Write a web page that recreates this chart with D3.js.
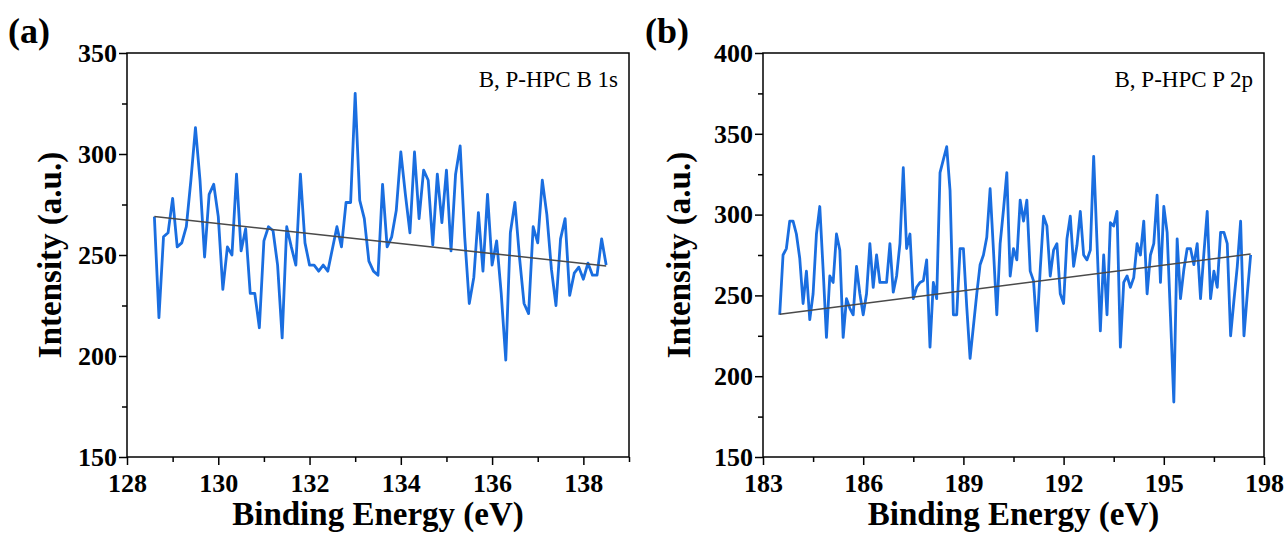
<!DOCTYPE html>
<html>
<head>
<meta charset="utf-8">
<script src="https://cdn.jsdelivr.net/npm/d3@7"></script>
<style>
  body { margin: 0; background: #fff; }
  svg { display: block; }
</style>
</head>
<body>
<svg id="chart"></svg>
<script>
// ---- panel (a) : B 1s ----
const energyA = [128.6,128.7,128.8,128.9,
  129.0,129.1,129.2,129.3,129.4,129.5,129.6,129.7,129.8,129.9,
  130.0,130.1,130.2,130.3,130.4,130.5,130.6,130.7,130.8,130.9,
  131.0,131.1,131.2,131.3,131.4,131.5,131.6,131.7,131.8,131.9,
  132.0,132.1,132.2,132.3,132.4,132.5,132.6,132.7,132.8,132.9,
  133.0,133.1,133.2,133.3,133.4,133.5,133.6,133.7,133.8,133.9,
  134.0,134.1,134.2,134.3,134.4,134.5,134.6,134.7,134.8,134.9,
  135.0,135.1,135.2,135.3,135.4,135.5,135.6,135.7,135.8,135.9,
  136.0,136.1,136.2,136.3,136.4,136.5,136.6,136.7,136.8,136.9,
  137.0,137.1,137.2,137.3,137.4,137.5,137.6,137.7,137.8,137.9,
  138.0,138.1,138.2,138.3,138.4,138.5];
const intensityA = [269,219,259,261,
  278,254,256,264,287,313,287,249,280,285,
  269,233,254,250,290,252,263,231,231,214,
  257,264,262,245,209,264,254,245,290,256,
  245,245,242,245,242,253,264,254,276,276,
  330,277,268,247,242,240,285,254,259,272,
  301,280,261,301,268,292,287,255,290,266,
  292,252,290,304,259,226,239,271,242,280,
  245,257,231,198,261,276,249,226,221,264,
  256,287,270,243,225,258,268,230,241,244,
  238,246,240,240,258,245];
const fitAx = [128.6, 138.5];
const fitAy = [269, 244.5];
const xTicksA = [128, 130, 132, 134, 136, 138];
const xMinorA = [129, 131, 133, 135, 137, 139];
const yTicksA = [150, 200, 250, 300, 350];
const yMinorA = [175, 225, 275, 325];

// ---- panel (b) : P 2p ----
const energyB = [183.5,183.6,183.7,183.8,183.9,
  184.0,184.1,184.2,184.3,184.4,184.5,184.6,184.7,184.8,184.9,
  185.0,185.1,185.2,185.3,185.4,185.5,185.6,185.7,185.8,185.9,
  186.0,186.1,186.2,186.3,186.4,186.5,186.6,186.7,186.8,186.9,
  187.0,187.1,187.2,187.3,187.4,187.5,187.6,187.7,187.8,187.9,
  188.0,188.1,188.2,188.3,188.4,188.5,188.6,188.7,188.8,188.9,
  189.0,189.1,189.2,189.3,189.4,189.5,189.6,189.7,189.8,189.9,
  190.0,190.1,190.2,190.3,190.4,190.5,190.6,190.7,190.8,190.9,
  191.0,191.1,191.2,191.3,191.4,191.5,191.6,191.7,191.8,191.9,
  192.0,192.1,192.2,192.3,192.4,192.5,192.6,192.7,192.8,192.9,
  193.0,193.1,193.2,193.3,193.4,193.5,193.6,193.7,193.8,193.9,
  194.0,194.1,194.2,194.3,194.4,194.5,194.6,194.7,194.8,194.9,
  195.0,195.1,195.2,195.3,195.4,195.5,195.6,195.7,195.8,195.9,
  196.0,196.1,196.2,196.3,196.4,196.5,196.6,196.7,196.8,196.9,
  197.0,197.1,197.2,197.3,197.4,197.5,197.6];
const intensityB = [238,275,279,296,296,
  288,273,245,265,235,251,288,305,266,224,
  262,258,288,278,224,248,242,238,268,251,
  238,251,282,255,275,258,258,258,282,252,
  262,282,329,279,288,248,255,258,259,272,
  218,258,248,326,334,342,315,238,238,279,
  279,243,211,231,251,269,275,286,316,278,
  238,282,303,326,262,279,272,309,296,309,
  265,259,228,266,299,293,262,278,282,251,
  245,285,299,268,281,302,275,272,278,336,
  283,228,275,238,295,293,302,218,258,262,
  255,261,282,275,296,251,275,282,312,258,
  305,289,237,184,285,248,266,279,279,269,
  282,248,276,302,248,265,255,289,289,282,
  225,247,268,296,225,251,275];
const fitBx = [183.5, 197.6];
const fitBy = [238.3, 275.6];
const xTicksB = [183, 186, 189, 192, 195, 198];
const xMinorB = [184.5, 187.5, 190.5, 193.5, 196.5];
const yTicksB = [150, 200, 250, 300, 350, 400];
const yMinorB = [175, 225, 275, 325, 375];

const svg = d3.select("#chart").attr("width", 1288).attr("height", 537);
svg.append("rect").attr("width", 1288).attr("height", 537).attr("fill", "#fff");

const serif = "'Liberation Serif', 'Times New Roman', serif";

function drawPanel(p) {
  const x = d3.scaleLinear().domain(p.xDomain).range([p.left, p.right]);
  const y = d3.scaleLinear().domain(p.yDomain).range([p.bottom, p.top]);
  const g = svg.append("g");

  // minor ticks
  g.append("g")
    .attr("transform", "translate(0," + p.bottom + ")")
    .call(d3.axisBottom(x).tickValues(p.xMinor).tickSize(5).tickFormat(""))
    .call(a => a.select(".domain").remove());
  g.append("g")
    .attr("transform", "translate(" + p.left + ",0)")
    .call(d3.axisLeft(y).tickValues(p.yMinor).tickSize(5).tickFormat(""))
    .call(a => a.select(".domain").remove());

  // major ticks + labels
  g.append("g")
    .attr("class", "xaxis")
    .attr("transform", "translate(0," + p.bottom + ")")
    .call(d3.axisBottom(x).tickValues(p.xTicks).tickSize(8).tickPadding(9).tickFormat(d3.format("d")))
    .call(a => a.select(".domain").remove());
  g.append("g")
    .attr("class", "yaxis")
    .attr("transform", "translate(" + p.left + ",0)")
    .call(d3.axisLeft(y).tickValues(p.yTicks).tickSize(8).tickPadding(2).tickFormat(d3.format("d")))
    .call(a => a.select(".domain").remove());

  g.selectAll(".tick line").attr("stroke", "#000").attr("stroke-width", 1.5);
  g.selectAll(".tick text")
    .attr("fill", "#000")
    .style("font-family", serif)
    .style("font-weight", "bold")
    .style("font-size", "26px");

  // frame
  g.append("rect")
    .attr("x", p.left).attr("y", p.top)
    .attr("width", p.right - p.left).attr("height", p.bottom - p.top)
    .attr("fill", "none").attr("stroke", "#000").attr("stroke-width", 1.5);

  // spectrum
  const pts = p.energy.map((e, i) => [e, p.intensity[i]]);
  g.append("path")
    .datum(pts)
    .attr("fill", "none")
    .attr("stroke", "#1a6ee0")
    .attr("stroke-width", 2.8)
    .attr("stroke-linejoin", "round")
    .attr("d", d3.line().x(d => x(d[0])).y(d => y(d[1])));

  // linear fit
  g.append("path")
    .datum(p.fitX.map((e, i) => [e, p.fitY[i]]))
    .attr("fill", "none")
    .attr("stroke", "#4a4a4a")
    .attr("stroke-width", 1.5)
    .attr("d", d3.line().x(d => x(d[0])).y(d => y(d[1])));

  // label inside
  g.append("text")
    .attr("x", p.right - 11).attr("y", p.top + 34)
    .attr("text-anchor", "end")
    .style("font-family", serif)
    .style("font-size", "23px")
    .text(p.name);

  // axis titles
  g.append("text")
    .attr("x", (p.left + p.right) / 2).attr("y", 525)
    .attr("text-anchor", "middle")
    .style("font-family", serif)
    .style("font-weight", "bold")
    .style("font-size", "33px")
    .text("Binding Energy (eV)");
  g.append("text")
    .attr("transform", "translate(" + p.ytitleX + "," + (p.top + p.bottom) / 2 + ") rotate(-90)")
    .attr("text-anchor", "middle")
    .style("font-family", serif)
    .style("font-weight", "bold")
    .style("font-size", "33px")
    .text("Intensity (a.u.)");

  // panel letter
  g.append("text")
    .attr("x", p.letterX).attr("y", 43)
    .style("font-family", serif)
    .style("font-weight", "bold")
    .style("font-size", "36px")
    .text(p.letter);
}

drawPanel({
  left: 127, right: 629, top: 53, bottom: 457,
  xDomain: [128, 139], yDomain: [150, 350],
  xTicks: xTicksA, xMinor: xMinorA, yTicks: yTicksA, yMinor: yMinorA,
  energy: energyA, intensity: intensityA, fitX: fitAx, fitY: fitAy,
  name: "B, P-HPC B 1s", ytitleX: 61, letter: "(a)", letterX: 8
});

drawPanel({
  left: 763, right: 1264, top: 53, bottom: 457,
  xDomain: [183, 198], yDomain: [150, 400],
  xTicks: xTicksB, xMinor: xMinorB, yTicks: yTicksB, yMinor: yMinorB,
  energy: energyB, intensity: intensityB, fitX: fitBx, fitY: fitBy,
  name: "B, P-HPC P 2p", ytitleX: 690, letter: "(b)", letterX: 645
});
</script>
</body>
</html>
